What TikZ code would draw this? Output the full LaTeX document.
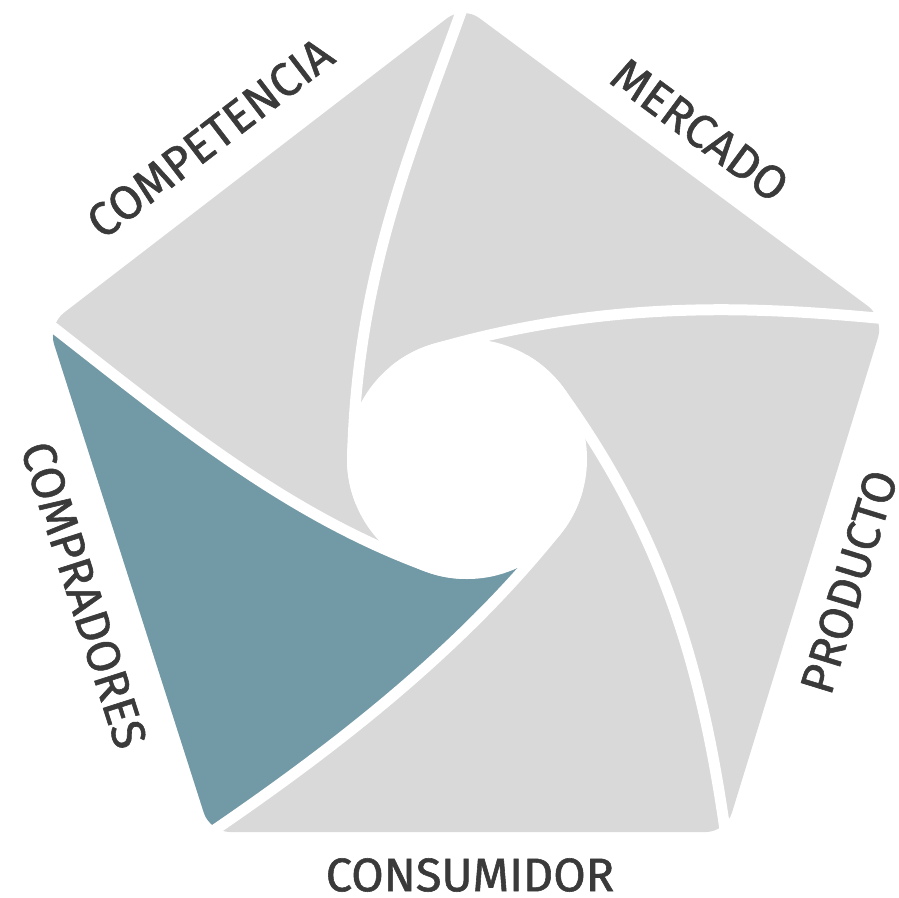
\documentclass[tikz,border=0pt]{standalone}
\usepackage{fontspec}
\setmainfont{Fira Sans}
\newfontfamily\lblfont{Fira Sans}[FakeBold=1.2]
\usetikzlibrary{calc}
\definecolor{segGrey}{HTML}{D9D9D9}
\definecolor{segTeal}{HTML}{7299A6}
\definecolor{labelInk}{HTML}{3A3A3A}
\begin{document}
\begin{tikzpicture}[x=1pt,y=1pt,
  gap/.style={draw=white, line width=11pt},
  lbl/.style={text=labelInk, font=\lblfont\fontsize{47}{50}\selectfont, inner sep=0pt}]
\useasboundingbox (0,0) rectangle (899,-897);
% centre and pentagon vertices
\coordinate (O) at (467,-459);
\coordinate (T) at (463,-6);
\coordinate (UL) at (48,-325);
\coordinate (UR) at (884,-318);
\coordinate (LL) at (210,-832);
\coordinate (LR) at (726,-832);
\coordinate (mL) at ($(LL)!0.5!(UL)$);
% spiral curves: extension, start, controls, end inside circle
\coordinate (xT) at (466,2);   \coordinate (sT) at (461,-12);
\coordinate (aT) at (411,-151); \coordinate (bT) at (358,-273);
\coordinate (pT) at ($(O)+(177:114.5)$);
\coordinate (xUR) at (892,-319); \coordinate (sUR) at (877,-318);
\coordinate (aUR) at (757,-307); \coordinate (bUR) at (610,-299);
\coordinate (pUR) at ($(O)+(105:114.5)$);
\coordinate (xLR) at (726,-838); \coordinate (sLR) at (724,-823);
\coordinate (aLR) at (702,-674); \coordinate (bLR) at (666,-539);
\coordinate (pLR) at ($(O)+(35:114.5)$);
\coordinate (xLL) at (204,-838); \coordinate (sLL) at (216,-829);
\coordinate (aLL) at (340,-744); \coordinate (bLL) at (461,-649);
\coordinate (pLL) at ($(O)+(-40:114.5)$);
\coordinate (xUL) at (42,-319); \coordinate (sUL) at (54,-328);
\coordinate (aUL) at (172,-420); \coordinate (bUL) at (285,-514);
\coordinate (pUL) at ($(O)+(249:114.5)$);
\coordinate (oA) at (20,-330);
\coordinate (oB) at (180,-860);
% grey pentagon
\fill[segGrey, rounded corners=20pt] (mL) -- (UL) -- (T) -- (UR) -- (LR) -- (LL) -- cycle;
% teal segment
\begin{scope}
\clip[rounded corners=20pt] (mL) -- (UL) -- (T) -- (UR) -- (LR) -- (LL) -- cycle;
\fill[segTeal] (oA) -- (sUL) .. controls (aUL) and (bUL) .. (pUL) -- (O) -- (pLL)
  .. controls (bLL) and (aLL) .. (sLL) -- (oB) -- cycle;
\end{scope}
% white gaps, each running on along the circle inside the white disc
\draw[gap] (xT) -- (sT) .. controls (aT) and (bT) .. (pT) arc[start angle=177, delta angle=25, radius=114.5];
\draw[gap] (xUR) -- (sUR) .. controls (aUR) and (bUR) .. (pUR) arc[start angle=105, delta angle=25, radius=114.5];
\draw[gap] (xLR) -- (sLR) .. controls (aLR) and (bLR) .. (pLR) arc[start angle=35, delta angle=25, radius=114.5];
\draw[gap] (xLL) -- (sLL) .. controls (aLL) and (bLL) .. (pLL) arc[start angle=-40, delta angle=25, radius=114.5];
\draw[gap] (xUL) -- (sUL) .. controls (aUL) and (bUL) .. (pUL) arc[start angle=249, delta angle=25, radius=114.5];
% central circle
\fill[white] (O) circle[radius=120];
% labels
\node[lbl, rotate=37.5] (lComp) at (210,-138) {COMPETENCIA};
\node[lbl, rotate=-36.5] (lMerc) at (700,-130) {MERCADO};
\node[lbl, rotate=72.9] (lProd) at (849,-582) {PRODUCTO};
\node[lbl] (lCons) at (470,-875) {CONSUMIDOR};
\node[lbl, rotate=-72.3] (lCompr) at (84,-595) {COMPRADORES};
\end{tikzpicture}
\end{document}
